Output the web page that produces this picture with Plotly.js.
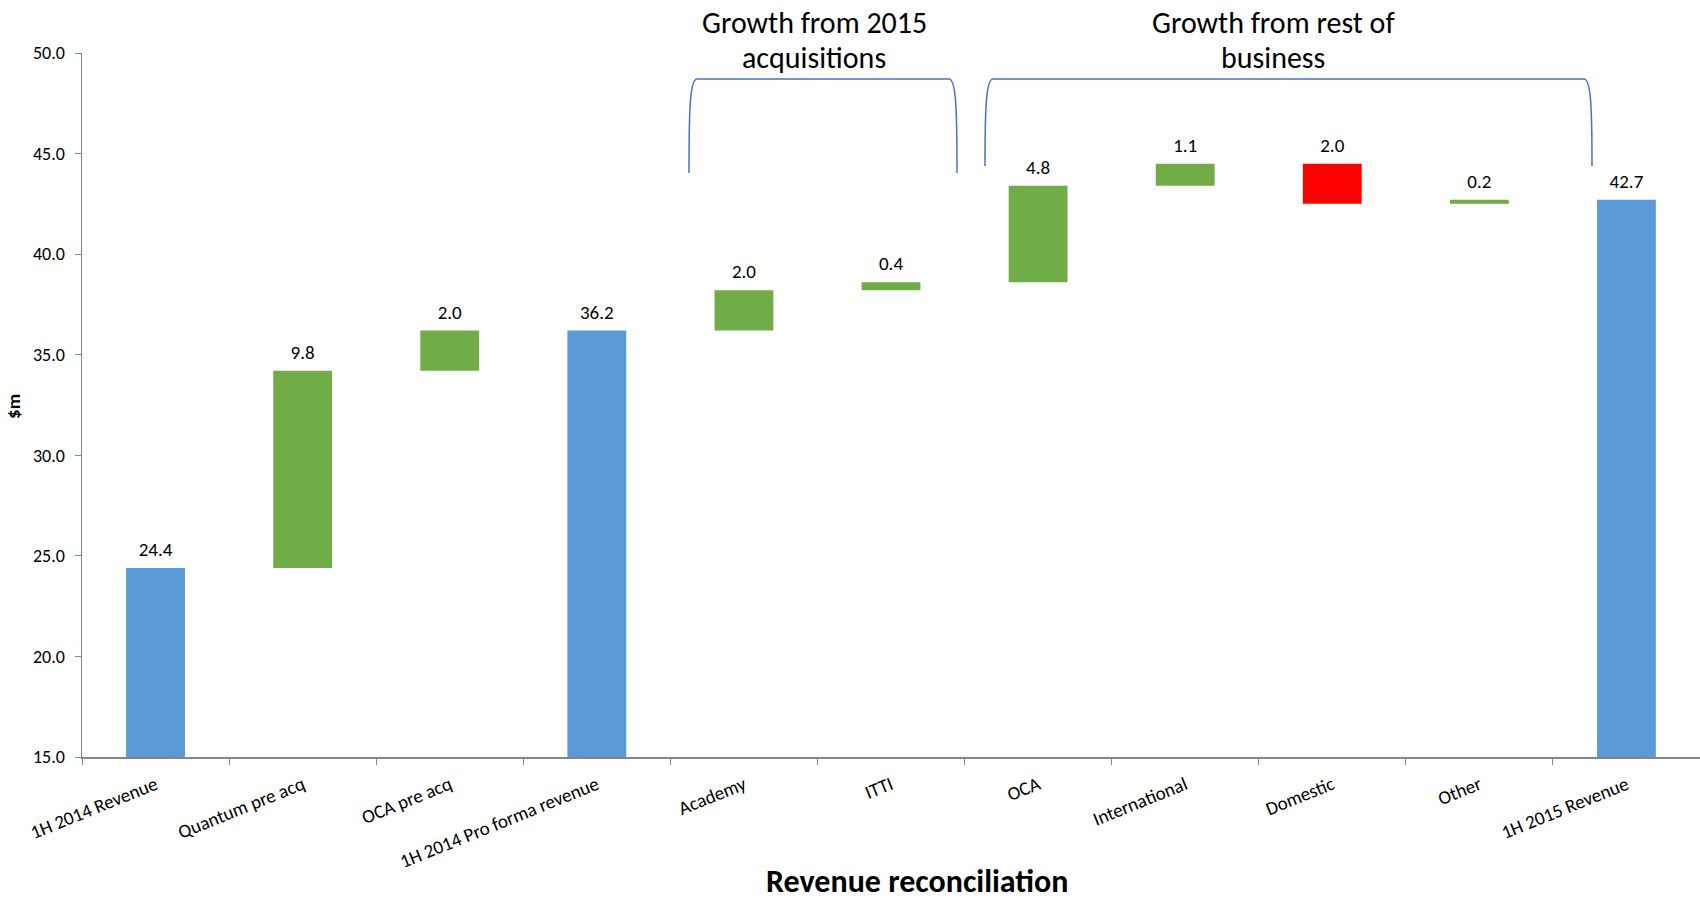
<!DOCTYPE html>
<html>
<head>
<meta charset="utf-8">
<script src="https://cdn.plot.ly/plotly-3.0.1.min.js"></script>
<style>html,body{margin:0;padding:0;background:#fff;}#chart{width:1700px;height:900px;}</style>
</head>
<body>
<div id="chart"></div>
<script>
// ---- data ----
const categories = ["1H 2014 Revenue", "Quantum pre acq", "OCA pre acq", "1H 2014 Pro forma revenue",
  "Academy", "ITTI", "OCA", "International", "Domestic", "Other", "1H 2015 Revenue"];
const values   = [24.4, 9.8, 2.0, 36.2, 2.0, 0.4, 4.8, 1.1, -2.0, 0.2, 42.7];
const measures = ["total", "relative", "relative", "total", "relative", "relative", "relative", "relative", "relative", "relative", "total"];
const yTicks = [15, 20, 25, 30, 35, 40, 45, 50];
const groupLabels = [["Growth from 2015", "acquisitions"], ["Growth from rest of", "business"]];

// ---- derived waterfall geometry ----
const FONT = "Carlito, Lato, 'Open Sans', sans-serif";
const C_TOTAL = "#5B9BD5", C_UP = "#70AD47", C_DOWN = "#FF0000";
let running = 0;
const bases = [], heights = [], colors = [], tops = [], labels = [];
values.forEach((v, i) => {
  if (measures[i] === "total") {
    bases.push(0); heights.push(v); colors.push(C_TOTAL); tops.push(v); running = v;
  } else {
    const start = running, end = running + v;
    bases.push(Math.min(start, end)); heights.push(Math.abs(v));
    colors.push(v >= 0 ? C_UP : C_DOWN); tops.push(Math.max(start, end)); running = end;
  }
  labels.push(Math.abs(v).toFixed(1));
});

const bars = {
  type: "bar", x: categories, y: heights, base: bases,
  marker: {color: colors, line: {width: 0}}, width: 0.4,
  hoverinfo: "skip", showlegend: false
};
const txt = {
  type: "scatter", mode: "markers+text", x: categories, y: tops, text: labels,
  marker: {size: 10, opacity: 0},
  textposition: "top center", textfont: {family: FONT, size: 19, color: "#000"},
  hoverinfo: "skip", showlegend: false, cliponaxis: false
};

// plot area in pixels: left 82, right 1700, top 53, bottom 757
const PL = 82, PR = 1700, PT = 53, PB = 757;
const px = x => (x - PL) / (PR - PL);
const py = y => (PB - y) / (PB - PT);
function bracket(x0, x1, yb, yt) {
  return {
    type: "path", xref: "paper", yref: "paper",
    path: `M ${px(x0)},${py(yb)} C ${px(x0)},${py(yt + 30)} ${px(x0 + 1)},${py(yt)} ${px(x0 + 8)},${py(yt)} ` +
          `L ${px(x1 - 8)},${py(yt)} C ${px(x1 - 1)},${py(yt)} ${px(x1)},${py(yt + 30)} ${px(x1)},${py(yb)}`,
    line: {color: "#4472C4", width: 1.5}
  };
}
function groupTitle(lines, xc) {
  return lines.map((t, k) => ({
    text: t, xref: "paper", yref: "paper", x: px(xc), y: py(23 + 35 * k), showarrow: false,
    font: {family: FONT, size: 30, color: "#000"}, xanchor: "center", yanchor: "middle"
  }));
}

const layout = {
  width: 1700, height: 900,
  margin: {l: PL, r: 0, t: PT, b: 900 - PB},
  paper_bgcolor: "#fff", plot_bgcolor: "#fff",
  bargap: 0.6,
  xaxis: {
    type: "category", categoryarray: categories, range: [-0.5, categories.length - 0.5],
    showline: true, linecolor: "#868686", linewidth: 1.5,
    ticks: "outside", tickson: "boundaries", ticklen: 6, tickcolor: "#868686",
    tickangle: -22, tickfont: {family: FONT, size: 19, color: "#000"}, ticklabelstandoff: 8,
    showgrid: false, zeroline: false, fixedrange: true
  },
  yaxis: {
    range: [15, 50], tickvals: yTicks, tickformat: ".1f",
    showline: true, linecolor: "#868686", linewidth: 1.5,
    ticks: "outside", ticklen: 6, tickcolor: "#868686",
    tickfont: {family: FONT, size: 18, color: "#000"}, ticklabelstandoff: 6,
    showgrid: false, zeroline: false, fixedrange: true
  },
  shapes: [bracket(689, 957, 173, 79), bracket(985, 1592, 166, 79)],
  annotations: [
    ...groupTitle(groupLabels[0], 814),
    ...groupTitle(groupLabels[1], 1273),
    {text: "<b>Revenue reconciliation</b>", xref: "paper", yref: "paper", x: px(917), y: py(881), showarrow: false,
     font: {family: FONT, size: 32, color: "#000"}, xanchor: "center", yanchor: "middle"},
    {text: "<b>$m</b>", xref: "paper", yref: "paper", x: px(13), y: py(407), showarrow: false, textangle: -90,
     font: {family: FONT, size: 19, color: "#000"}, xanchor: "center", yanchor: "middle"}
  ]
};

Plotly.newPlot("chart", [bars, txt], layout, {displayModeBar: false, staticPlot: true});
</script>
</body>
</html>
